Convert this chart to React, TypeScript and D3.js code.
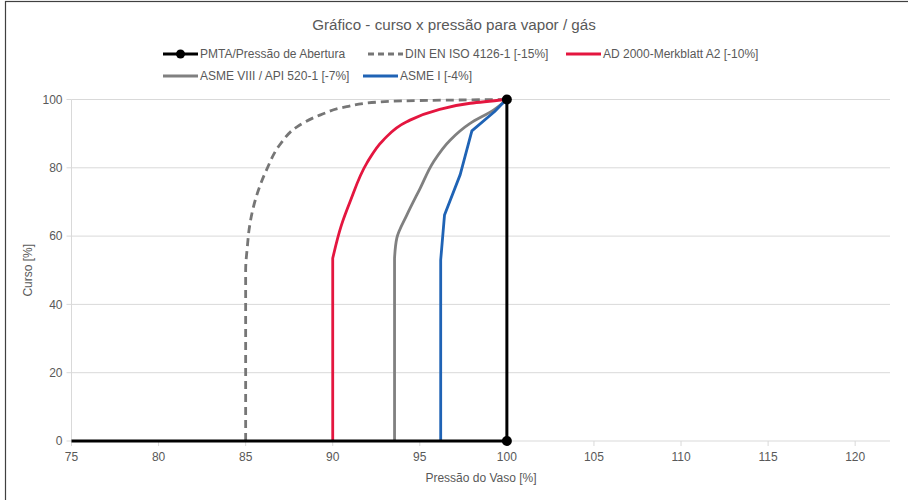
import React from "react";
import * as d3 from "d3";

type Pt = [number, number];

const pmtaPoints: Pt[] = [[75, 0], [100, 0], [100, 100]];
const pmtaMarkers: Pt[] = [[100, 0], [100, 100]];
const dinPoints: Pt[] = [[85, 0], [85, 50], [85.1, 57], [85.2, 62], [85.55, 70.5], [86.2, 79.4], [87, 87], [87.95, 92], [89.3, 95.5], [90.8, 97.9], [92.5, 99.2], [95, 99.7], [100, 100]];
const adPoints: Pt[] = [[90, 0], [90, 53.5], [90.5, 63.2], [91, 70.1], [91.95, 81.3], [92.9, 88.1], [94.25, 93.5], [96, 96.9], [97.9, 98.9], [100, 100]];
const asme8Points: Pt[] = [[93.55, 0], [93.55, 53.5], [93.68, 59.4], [94.26, 66.2], [95.02, 74], [95.79, 81.8], [96.74, 88.1], [97.89, 93], [99.23, 96.9], [100, 100]];
const asme1Points: Pt[] = [[96.2, 0], [96.2, 53], [96.42, 66.2], [97.32, 78], [97.99, 90.8], [99.3, 96.5], [99.7, 98.6], [100, 100]];

const xTicks = [75, 80, 85, 90, 95, 100, 105, 110, 115, 120];
const yTicks = [0, 20, 40, 60, 80, 100];
const xDomain: Pt = [75, 122];
const yDomain: Pt = [0, 100];

const title = "Gráfico - curso x pressão para vapor / gás";
const xTitle = "Pressão do Vaso [%]";
const yTitle = "Curso [%]";

// smooth: "all" = smooth whole curve, "tail" = straight vertical start then smooth, "none" = linear
const series = [
  { name: "DIN EN ISO 4126-1 [-15%]", data: dinPoints, color: "#767676", width: 2.8, dash: "8,5", smooth: "all" },
  { name: "AD 2000-Merkblatt A2 [-10%]", data: adPoints, color: "#e4163f", width: 2.8, dash: "", smooth: "tail" },
  { name: "ASME VIII / API 520-1 [-7%]", data: asme8Points, color: "#808080", width: 2.8, dash: "", smooth: "tail" },
  { name: "ASME I [-4%]", data: asme1Points, color: "#1f63b5", width: 2.8, dash: "", smooth: "none" },
];

const W = 908;
const H = 500;
const FONT = "'Liberation Sans', Arial, sans-serif";
const TXT = "#595959";

export default function App() {
  const x = d3.scaleLinear().domain(xDomain).range([71.5, 890]);
  const y = d3.scaleLinear().domain(yDomain).range([441, 99.5]);
  const lineLin = d3.line<Pt>().x((d) => x(d[0])).y((d) => y(d[1]));
  const lineSmooth = d3.line<Pt>().x((d) => x(d[0])).y((d) => y(d[1])).curve(d3.curveMonotoneY);

  const pathFor = (data: Pt[], mode: string) => {
    if (mode === "all") return lineSmooth(data) || "";
    if (mode === "none") return lineLin(data) || "";
    const head = lineLin(data.slice(0, 2)) || "";
    const tail = (lineSmooth(data.slice(1)) || "").replace(/^M[^CLc]*/, "");
    return head + tail;
  };

  const legendRow1 = [
    { kind: "pmta", label: "PMTA/Pressão de Abertura", x: 163, color: "#000", dash: "" },
    { kind: "s", label: series[0].name, x: 368, color: series[0].color, dash: "6,4" },
    { kind: "s", label: series[1].name, x: 566, color: series[1].color, dash: "" },
  ];
  const legendRow2 = [
    { kind: "s", label: series[2].name, x: 163, color: series[2].color, dash: "" },
    { kind: "s", label: series[3].name, x: 363, color: series[3].color, dash: "" },
  ];

  const renderLegend = (items: any[], cy: number) =>
    items.map((it, i) => (
      <g key={i}>
        <line x1={it.x} x2={it.x + 35} y1={cy} y2={cy} stroke={it.color} strokeWidth={it.kind === "pmta" ? 3 : 2.8} strokeDasharray={it.dash || undefined} />
        {it.kind === "pmta" && <circle cx={it.x + 17.5} cy={cy} r={4.5} fill="#000" />}
        <text x={it.x + 37} y={cy} dy="0.35em" fontSize={12} fill={TXT} fontFamily={FONT}>{it.label}</text>
      </g>
    ));

  return (
    <svg width={W} height={H} style={{ position: "absolute", left: 0, top: 0 }}>
      <rect x={0} y={0} width={W} height={H} fill="#fff" />
      <rect x={5.5} y={1.5} width={W + 10} height={H + 10} fill="none" stroke="#404040" strokeWidth={1.2} />
      <text x={454} y={25} dy="0.35em" textAnchor="middle" fontSize={15.2} fill={TXT} fontFamily={FONT}>{title}</text>
      {renderLegend(legendRow1, 54)}
      {renderLegend(legendRow2, 76)}

      {yTicks.map((t) => (
        <g key={"y" + t}>
          {t > 0 && <line x1={x(xDomain[0])} x2={x(xDomain[1])} y1={y(t)} y2={y(t)} stroke="#d9d9d9" strokeWidth={1} />}
          <line x1={x(xDomain[0]) - 5} x2={x(xDomain[0])} y1={y(t)} y2={y(t)} stroke="#d9d9d9" />
          <text x={x(xDomain[0]) - 9} y={y(t)} dy="0.35em" textAnchor="end" fontSize={12} fill={TXT} fontFamily={FONT}>{t}</text>
        </g>
      ))}
      <line x1={x(xDomain[0])} x2={x(xDomain[0])} y1={y(100)} y2={y(0)} stroke="#d9d9d9" />
      <line x1={x(xDomain[0])} x2={x(xDomain[1])} y1={y(0)} y2={y(0)} stroke="#d9d9d9" />
      {xTicks.map((t) => (
        <g key={"x" + t}>
          <line x1={x(t)} x2={x(t)} y1={y(0)} y2={y(0) + 5} stroke="#d9d9d9" />
          <text x={x(t)} y={457} dy="0.35em" textAnchor="middle" fontSize={12} fill={TXT} fontFamily={FONT}>{t}</text>
        </g>
      ))}
      <text x={481} y={478} dy="0.35em" textAnchor="middle" fontSize={12} fill={TXT} fontFamily={FONT}>{xTitle}</text>
      <text transform={`translate(28,${(y(0) + y(100)) / 2}) rotate(-90)`} dy="0.35em" textAnchor="middle" fontSize={12} fill={TXT} fontFamily={FONT}>{yTitle}</text>

      {series.map((s) => (
        <path key={s.name} d={pathFor(s.data, s.smooth)} fill="none" stroke={s.color} strokeWidth={s.width} strokeDasharray={s.dash || undefined} strokeLinejoin="round" />
      ))}
      <path d={lineLin(pmtaPoints) || ""} fill="none" stroke="#000" strokeWidth={3} />
      {pmtaMarkers.map((p, i) => (
        <circle key={i} cx={x(p[0])} cy={y(p[1])} r={5} fill="#000" />
      ))}
    </svg>
  );
}
